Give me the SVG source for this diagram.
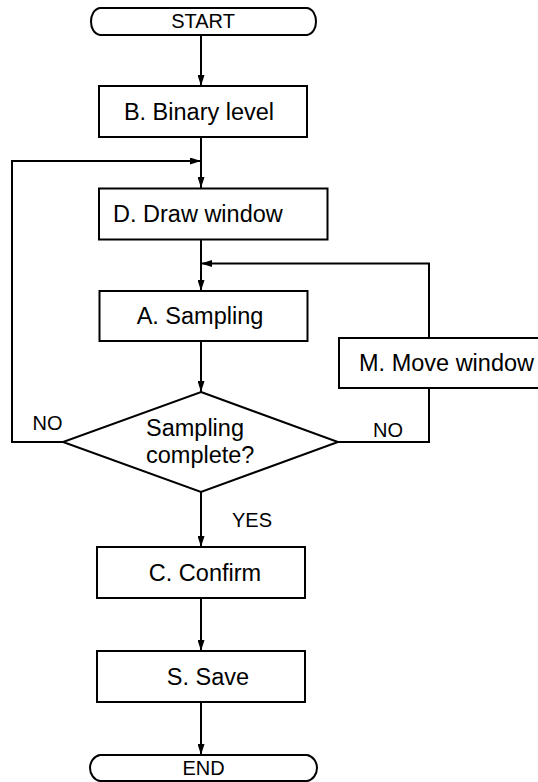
<svg xmlns="http://www.w3.org/2000/svg" width="538" height="782" viewBox="0 0 538 782">
<style>
.shape{fill:#fff;stroke:#000;stroke-width:2}
.line{fill:none;stroke:#000;stroke-width:2}
.t{font-family:"Liberation Sans",Arial,Helvetica,sans-serif;font-size:23.5px;fill:#000}
.s{font-family:"Liberation Sans",Arial,Helvetica,sans-serif;font-size:20px;fill:#000}
.m{text-anchor:middle}
</style>
<defs>
<marker id="arr" markerUnits="userSpaceOnUse" markerWidth="11" markerHeight="7" refX="11" refY="3.5" orient="auto">
<path d="M0,0 L11,3.5 L0,7 z" fill="#000"/>
</marker>
</defs>
<rect width="538" height="782" fill="#fff"/>
<g id="connectors">
<path class="line" d="M201,35 V86" marker-end="url(#arr)"/>
<path class="line" d="M201,137 V188" marker-end="url(#arr)"/>
<path class="line" d="M63,442 H12 V161 H201" marker-end="url(#arr)"/>
<path class="line" d="M201,239 V291" marker-end="url(#arr)"/>
<path class="line" d="M201,341 V392" marker-end="url(#arr)"/>
<path class="line" d="M338,442 H429 V388"/>
<path class="line" d="M429,338 V263.5 H201" marker-end="url(#arr)"/>
<path class="line" d="M201,492 V547" marker-end="url(#arr)"/>
<path class="line" d="M201,598 V651" marker-end="url(#arr)"/>
<path class="line" d="M201,702 V755" marker-end="url(#arr)"/>
</g>
<g id="start">
<path class="shape" d="M100,8 H307 C313,9 316,15 316,21.5 C316,28 313,34 307,35 H100 C94,34 91,28 91,21.5 C91,15 94,9 100,8 Z"/>
<text class="s m" x="203" y="28">START</text>
</g>
<g id="binary">
<rect class="shape" x="99" y="86" width="208" height="51"/>
<text class="t m" x="199" y="120">B. Binary level</text>
</g>
<g id="draw">
<rect class="shape" x="99" y="188.5" width="228.5" height="51"/>
<text class="t" x="113" y="222">D. Draw window</text>
</g>
<g id="sampling">
<rect class="shape" x="99.5" y="291" width="208" height="50"/>
<text class="t m" x="200" y="324">A. Sampling</text>
</g>
<g id="move">
<rect class="shape" x="339" y="338" width="202" height="50"/>
<text class="t" x="359" y="371">M. Move window</text>
</g>
<g id="decision">
<path class="shape" d="M201,392 L338,442 L201,492 L63,442 Z"/>
<text class="t" x="146" y="436">Sampling</text>
<text class="t" x="146" y="463">complete?</text>
</g>
<g id="labels">
<text class="s" x="32.5" y="430">NO</text>
<text class="s" x="373" y="437">NO</text>
<text class="s" x="232" y="527">YES</text>
</g>
<g id="confirm">
<rect class="shape" x="97" y="547" width="208" height="51"/>
<text class="t m" x="205" y="581">C. Confirm</text>
</g>
<g id="save">
<rect class="shape" x="97" y="651" width="208" height="51"/>
<text class="t m" x="208" y="684.5">S. Save</text>
</g>
<g id="end">
<path class="shape" d="M100,755 H307 C313,756 317,762 317,768 C317,774 313,780 307,781 H100 C94,780 90,774 90,768 C90,762 94,756 100,755 Z"/>
<text class="s m" x="203.5" y="775">END</text>
</g>
</svg>
